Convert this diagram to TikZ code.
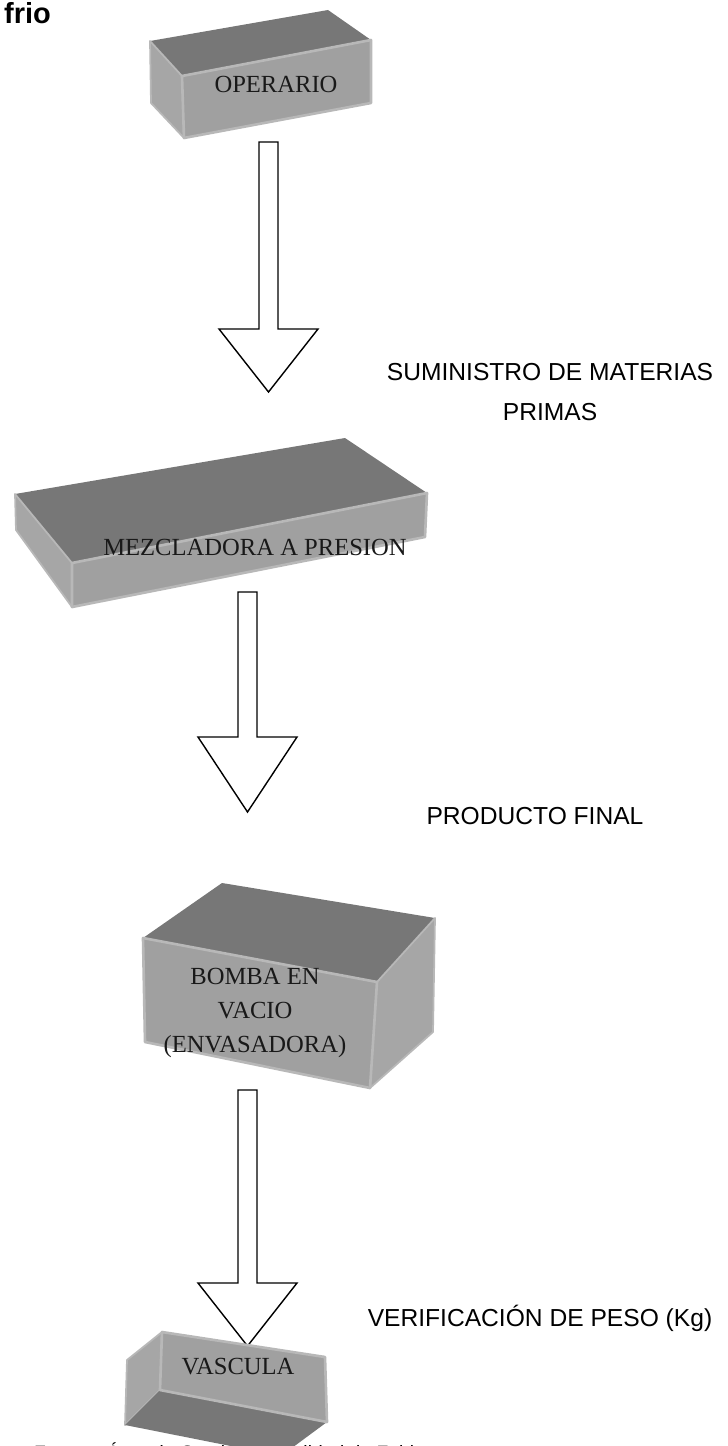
\documentclass[tikz,border=0pt]{standalone}
\usepackage{fontspec}
\setmainfont{Liberation Serif}
\setsansfont{Liberation Sans}
\usetikzlibrary{positioning}

\definecolor{tapa}{HTML}{777777}
\definecolor{frente}{HTML}{A0A0A0}
\definecolor{lado}{HTML}{A6A6A6}
\definecolor{borde}{HTML}{B8B8B8}

\begin{document}
\begin{tikzpicture}[x=0.02cm, y=-0.02cm,
    tapa/.style={fill=tapa},
    lado/.style={fill=lado, draw=borde, line width=1pt, line join=round},
    frente/.style={fill=frente, draw=borde, line width=1.5pt, line join=round},
    flecha/.style={draw=black, fill=white, line width=0.8pt},
    equipo/.style={font=\fontsize{14}{19}\selectfont, text=black!90, align=center},
    nota/.style={font=\sffamily\fontsize{14}{22.8}\selectfont, align=center}]
    \clip (0,0) rectangle (727,1446);
    \node[anchor=north west, font=\sffamily\bfseries\fontsize{16.5}{18}\selectfont] (titulo) at (-2,-4) {frio};

    % operario
    \fill[tapa] (150,41) -- (328,10) -- (371,40) -- (182,76) -- cycle;
    \filldraw[lado] (150,41) -- (182,76) -- (184,138) -- (151,103) -- cycle;
    \filldraw[frente] (182,76) -- (371,40) -- (371,103) -- (184,138) -- cycle;
    \node[equipo] (operario) at (276,84) {OPERARIO};

    \draw[flecha] (259,142) -- (278,142) -- (278,329) -- (318,329) -- (268.5,392)
        -- (219,329) -- (259,329) -- cycle;
    \node[nota] (suministro) at (550,392) {SUMINISTRO DE MATERIAS\\PRIMAS};

    % mezcladora
    \fill[tapa] (15,494) -- (345,438) -- (427,493) -- (72,563) -- cycle;
    \filldraw[lado] (15,494) -- (72,563) -- (72,607) -- (16,530) -- cycle;
    \filldraw[frente] (72,563) -- (427,493) -- (425,537) -- (72,607) -- cycle;
    \node[equipo] (mezcladora) at (255,547) {MEZCLADORA A PRESION};

    \draw[flecha] (238,592) -- (257,592) -- (257,737) -- (297,737) -- (247.5,812)
        -- (198,737) -- (238,737) -- cycle;
    \node[nota] (producto) at (535,816) {PRODUCTO FINAL};

    % bomba
    \fill[tapa] (143,938) -- (222,883) -- (435,918) -- (377,982) -- cycle;
    \filldraw[lado] (377,982) -- (435,918) -- (433,1032) -- (370,1088) -- cycle;
    \filldraw[frente] (143,938) -- (377,982) -- (370,1088) -- (145,1042) -- cycle;
    \node[equipo, font=\fontsize{14}{19.5}\selectfont] (bomba) at (255,1013) {BOMBA EN\\VACIO\\(ENVASADORA)};

    \draw[flecha] (238,1090) -- (257,1090) -- (257,1283) -- (297,1283) -- (247.5,1346)
        -- (198,1283) -- (238,1283) -- cycle;
    \node[nota] (peso) at (540,1318) {VERIFICACIÓN DE PESO (Kg)};

    % pie
    \node[anchor=base west, font=\sffamily\fontsize{11}{13}\selectfont] (fuente) at (28,1459) {Fuente: Área de Gestión de Calidad de Fabi};

    % vascula
    \filldraw[lado] (162,1332) -- (127,1360) -- (125,1425) -- (160,1390) -- cycle;
    \fill[tapa] (160,1390) -- (327,1422) -- (281,1456) -- (125,1425) -- cycle;
    \filldraw[frente] (162,1332) -- (325,1357) -- (327,1422) -- (160,1390) -- cycle;
    \node[equipo] (vascula) at (238,1367) {VASCULA};
\end{tikzpicture}
\end{document}
